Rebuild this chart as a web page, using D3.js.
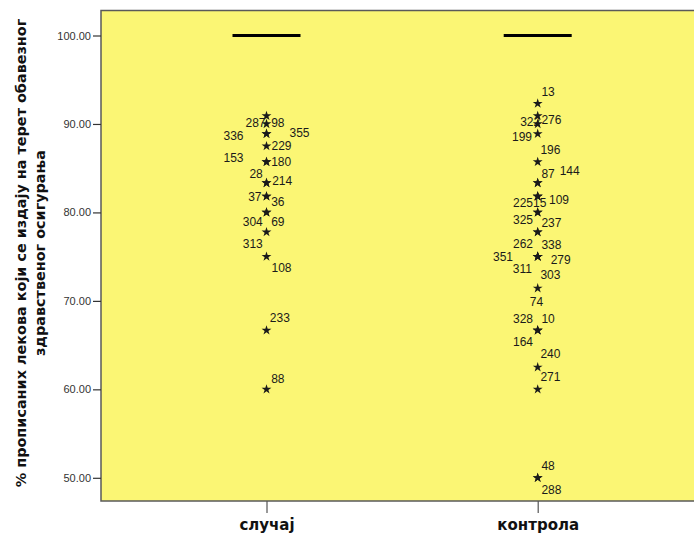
<!DOCTYPE html>
<html>
<head>
<meta charset="utf-8">
<script src="https://cdn.jsdelivr.net/npm/d3@7"></script>
<style>
  html, body { margin: 0; padding: 0; background: #fff; }
  svg { display: block; font-family: Arial, "Liberation Sans", sans-serif; }
</style>
</head>
<body>
<svg id="chart" width="694" height="538"></svg>
<script>
// Groups on the horizontal axis
const categories = ["случај", "контрола"];

// Medians of the two groups (the boxes collapse onto this line)
const medians = [100, 100];

// Extreme values: case numbers and their percentages
const caseIdsCase = ["287", "98", "336", "355", "229", "153", "180", "28", "214", "37", "36", "304", "69", "313", "108", "233", "88"];
const valuesCase  = [90.91, 90.00, 88.89, 88.89, 87.50, 85.71, 85.71, 83.33, 83.33, 81.82, 81.82, 80.00, 80.00, 77.78, 75.00, 66.67, 60.00];

const caseIdsControl = ["13", "322", "276", "199", "196", "87", "144", "225", "15", "109", "325", "237", "262", "338", "351", "279", "311", "303", "74", "328", "10", "164", "240", "271", "48", "288"];
const valuesControl  = [92.31, 90.91, 90.00, 88.89, 85.71, 83.33, 83.33, 81.82, 81.82, 81.82, 80.00, 80.00, 77.78, 77.78, 75.00, 75.00, 75.00, 75.00, 71.43, 66.67, 66.67, 66.67, 62.50, 60.00, 50.00, 50.00];

// Y axis ticks
const yTicks = [50, 60, 70, 80, 90, 100];

const yTitleLines = ["% прописаних лекова који се издају на терет обавезног", "здравственог осигурања"];

// Label placement around each star: [dx, dy, anchor]
const labelLayoutCase = [
  [-1, 7, "end"], [4.7, -1.3, "start"], [-23, 2, "end"], [23, -0.6, "start"], [5, 0, "start"],
  [-23, -4.3, "end"], [4.7, 0, "start"], [-3.7, -9, "end"], [5.7, -2.4, "start"], [-5, 0.7, "end"],
  [4.7, 5, "start"], [-3.7, 9, "end"], [4.7, 9, "start"], [-3.7, 11.6, "end"], [5, 11.3, "start"],
  [3.3, -12.7, "start"], [4.7, -10.7, "start"]
];
const labelLayoutControl = [
  [3.7, -11.6, "start"], [2.5, 5.7, "end"], [3.7, -4.3, "start"], [-5.7, 2.7, "end"], [2.7, -12, "start"],
  [3.7, -9, "start"], [22, -12.4, "start"], [-4.7, 6, "end"], [-4.7, 6, "start"], [11.3, 3.3, "start"],
  [-4.7, 7.3, "end"], [3.7, 10, "start"], [-4.7, 11.6, "end"], [3.7, 12.3, "start"], [-24.7, 0.3, "end"],
  [13, 3.6, "start"], [-5.7, 12, "end"], [2.7, 18.6, "start"], [-1.3, 14, "middle"], [-4.7, -11.7, "end"],
  [3.7, -11.7, "start"], [-4.7, 11, "end"], [2.7, -13.4, "start"], [2.7, -13, "start"], [3.7, -11.6, "start"],
  [3.7, 12, "start"]
];

const svg = d3.select("#chart");
const plot = { left: 101, top: 10.5, right: 700, bottom: 501 };
const boldFont = "'DejaVu Sans', Verdana, sans-serif";

const x = d3.scalePoint().domain(categories).range([266.5, 537.7]);
const y = d3.scaleLinear().domain([50, 100]).range([477.8, 35.5]);

// plot background
svg.append("rect")
  .attr("x", plot.left).attr("y", plot.top)
  .attr("width", plot.right - plot.left).attr("height", plot.bottom - plot.top)
  .attr("fill", "#fbf674")
  .attr("stroke", "#5a5a5a").attr("stroke-width", 1.5);

// Y axis
const yAxis = svg.append("g")
  .attr("transform", `translate(${plot.left},0)`)
  .call(d3.axisLeft(y).tickValues(yTicks).tickFormat(d3.format(".2f")).tickSize(8).tickPadding(2));
yAxis.select(".domain").remove();
yAxis.selectAll(".tick line").attr("stroke", "#333").attr("stroke-width", 1.2);
yAxis.selectAll(".tick text").attr("fill", "#333").style("font-size", "11px")
  .style("font-family", "Arial, 'Liberation Sans', sans-serif");

// X axis
const xAxis = svg.append("g")
  .attr("transform", `translate(0,${plot.bottom})`)
  .call(d3.axisBottom(x).tickSize(12).tickPadding(6));
xAxis.select(".domain").remove();
xAxis.selectAll(".tick line").attr("stroke", "#555").attr("stroke-width", 1.2);
xAxis.selectAll(".tick text").attr("fill", "#111")
  .style("font-size", "15px").style("font-weight", "bold")
  .style("font-family", boldFont);

// Y axis title (two lines, rotated)
const title = svg.append("text")
  .attr("transform", `translate(0,253) rotate(-90)`)
  .attr("text-anchor", "middle")
  .style("font-size", "14.4px").style("font-weight", "bold")
  .style("font-family", boldFont).attr("fill", "#111");
title.selectAll("tspan").data(yTitleLines).join("tspan")
  .attr("x", 0)
  .attr("y", (d, i) => i === 0 ? 26 : 45)
  .text(d => d);

// Median lines
svg.append("g").selectAll("line").data(categories).join("line")
  .attr("x1", d => x(d) - 34).attr("x2", d => x(d) + 34)
  .attr("y1", (d, i) => y(medians[i])).attr("y2", (d, i) => y(medians[i]))
  .attr("stroke", "#000").attr("stroke-width", 3);

// Extreme values as stars with case labels
const star = d3.symbol().type(d3.symbolStar).size(30);
const groups = [
  { cat: categories[0], ids: caseIdsCase, vals: valuesCase, layout: labelLayoutCase },
  { cat: categories[1], ids: caseIdsControl, vals: valuesControl, layout: labelLayoutControl }
];
groups.forEach(g => {
  const pts = g.ids.map((id, i) => ({ id, v: g.vals[i], lay: g.layout[i] }));
  const layer = svg.append("g");
  layer.selectAll("path").data(pts).join("path")
    .attr("d", star)
    .attr("transform", d => `translate(${x(g.cat)},${y(d.v)})`)
    .attr("fill", "#1a1a1a");
  layer.selectAll("text").data(pts).join("text")
    .attr("x", d => x(g.cat) + d.lay[0])
    .attr("y", d => y(d.v) + d.lay[1])
    .attr("dy", "0.35em")
    .attr("text-anchor", d => d.lay[2])
    .style("font-size", "12px").attr("fill", "#1a1a1a")
    .text(d => d.id);
});
</script>
</body>
</html>
